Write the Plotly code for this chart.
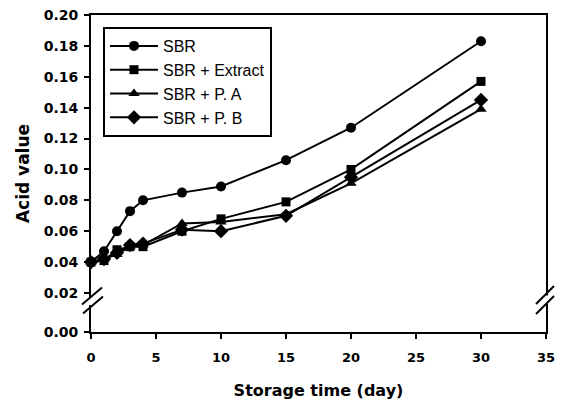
import plotly.graph_objects as go

# ---- data ----
days = [0, 1, 2, 3, 4, 7, 10, 15, 20, 30]
sbr = [0.040, 0.047, 0.060, 0.073, 0.080, 0.085, 0.089, 0.106, 0.127, 0.183]
sbr_extract = [0.040, 0.041, 0.048, 0.050, 0.050, 0.060, 0.068, 0.079, 0.100, 0.157]
sbr_pa = [0.040, 0.042, 0.045, 0.050, 0.051, 0.065, 0.066, 0.071, 0.091, 0.139]
sbr_pb = [0.040, 0.042, 0.046, 0.051, 0.052, 0.061, 0.060, 0.070, 0.095, 0.145]

series_names = ["SBR", "SBR + Extract", "SBR + P. A", "SBR + P. B"]
series_values = [sbr, sbr_extract, sbr_pa, sbr_pb]
series_symbols = ["circle", "square", "triangle-up", "diamond"]
series_sizes = [10, 9, 10, 11]

x_ticks = [0, 5, 10, 15, 20, 25, 30, 35]
y_ticks = [0.02, 0.04, 0.06, 0.08, 0.10, 0.12, 0.14, 0.16, 0.18, 0.20]
y_break_zero = -0.00525  # position where "0.00" is drawn below the axis break

fig = go.Figure()
for name, vals, sym, sz in zip(series_names, series_values, series_symbols, series_sizes):
    fig.add_trace(go.Scatter(
        x=days, y=vals, name=name, mode="lines+markers",
        line=dict(color="black", width=2),
        marker=dict(symbol=sym, size=sz, color="black"),
        cliponaxis=False,
    ))

L, R, T, B = 91, 17, 15, 68
W, H = 563, 400
pw, ph = W - L - R, H - T - B


def px(x):
    return (x - L) / pw


def py(y):
    return (H - B - y) / ph


shapes = []
# hide axis line segments between break slashes
for ax_x, y0, y1 in [(91.5, 297.5, 305.0), (546.5, 295.5, 303.5)]:
    shapes.append(dict(type="rect", xref="paper", yref="paper",
                       x0=px(ax_x - 3), x1=px(ax_x + 3), y0=py(y1), y1=py(y0),
                       fillcolor="white", line=dict(width=0), layer="above"))
# break slashes
for cx, cy, dx, dy in [(92, 296, 10, 8.5), (93, 305, 10, 8.5),
                       (545, 295, 9, 9), (545, 305, 9, 9)]:
    shapes.append(dict(type="line", xref="paper", yref="paper",
                       x0=px(cx - dx), y0=py(cy + dy), x1=px(cx + dx), y1=py(cy - dy),
                       line=dict(color="black", width=2), layer="above"))

fig.update_layout(
    template="none",
    width=W, height=H,
    margin=dict(l=L, r=R, t=T, b=B, pad=0, autoexpand=False),
    paper_bgcolor="white", plot_bgcolor="white",
    shapes=shapes,
    showlegend=True,
    legend=dict(x=px(103), y=py(27), xanchor="left", yanchor="top",
                bordercolor="black", borderwidth=2, bgcolor="white",
                font=dict(family="Liberation Sans, Arial", size=16, color="black"),
                itemwidth=48, tracegroupgap=0),
    xaxis=dict(range=[0, 35], tickvals=x_ticks, ticktext=[str(v) for v in x_ticks],
               automargin=False,
               showgrid=False, zeroline=False,
               showline=True, linecolor="black", linewidth=2, mirror=True,
               ticks="outside", ticklen=5, tickwidth=2, tickcolor="black",
               ticklabelstandoff=7,
               tickfont=dict(family="DejaVu Sans", size=13, color="black", weight="bold"),
               title=dict(text="<b>Storage time (day)</b>", standoff=22,
                          font=dict(family="DejaVu Sans", size=16, color="black"))),
    yaxis=dict(range=[y_break_zero, 0.20],
               tickvals=[y_break_zero] + y_ticks,
               ticktext=["0.00"] + [f"{v:.2f}" for v in y_ticks],
               automargin=False,
               showgrid=False, zeroline=False,
               showline=True, linecolor="black", linewidth=2, mirror=True,
               ticks="outside", ticklen=5, tickwidth=2, tickcolor="black",
               ticklabelstandoff=3,
               tickfont=dict(family="DejaVu Sans", size=14, color="black", weight="bold"),
               title=dict(text="<b>Acid value</b>", standoff=10,
                          font=dict(family="DejaVu Sans", size=17, color="black"))),
)

fig.write_html("out.html")
